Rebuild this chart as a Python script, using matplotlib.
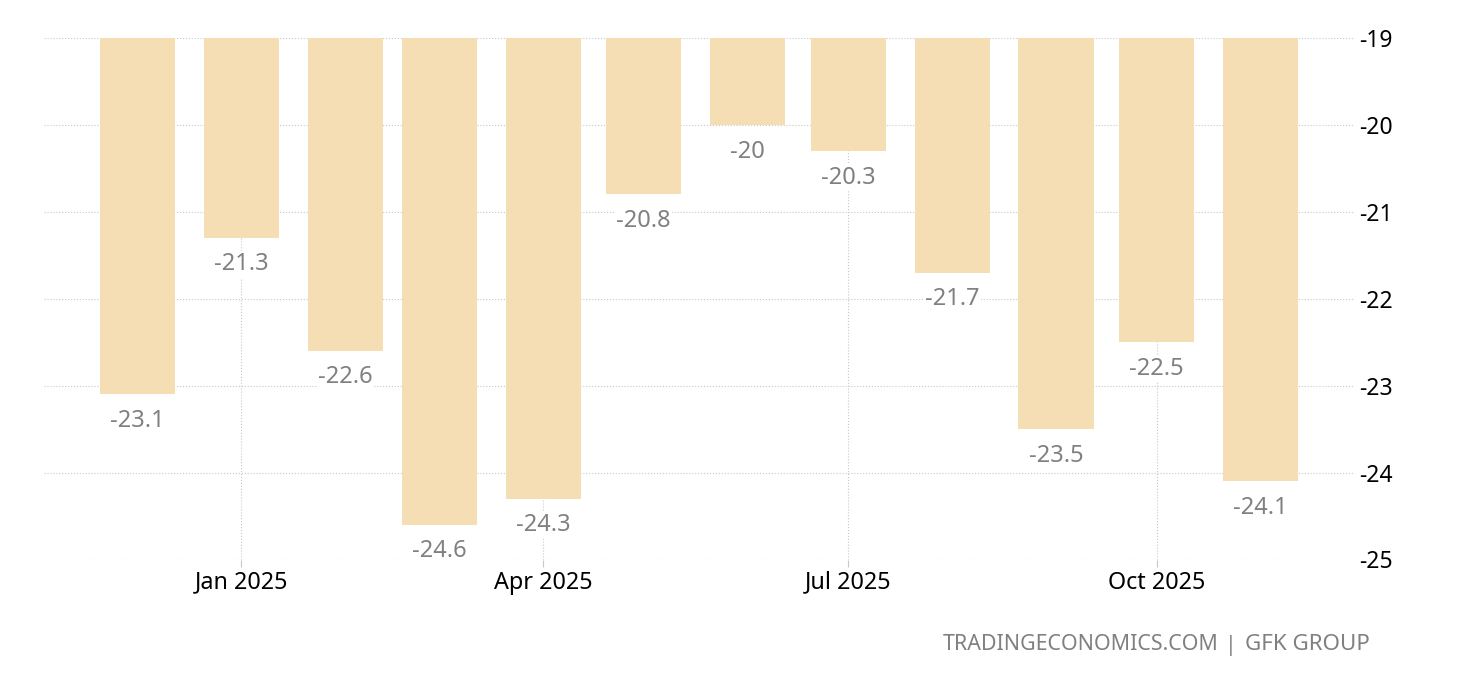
import matplotlib
matplotlib.use("Agg")
import matplotlib.pyplot as plt
import matplotlib.dates as mdates
import pandas as pd

months = ["2024-12-01", "2025-01-01", "2025-02-01", "2025-03-01", "2025-04-01", "2025-05-01",
          "2025-06-01", "2025-07-01", "2025-08-01", "2025-09-01", "2025-10-01", "2025-11-01"]
values = [-23.1, -21.3, -22.6, -24.6, -24.3, -20.8, -20, -20.3, -21.7, -23.5, -22.5, -24.1]
y_ticks = [-19, -20, -21, -22, -23, -24, -25]
x_ticks = ["2025-01-01", "2025-04-01", "2025-07-01", "2025-10-01"]
x_tick_labels = ["Jan 2025", "Apr 2025", "Jul 2025", "Oct 2025"]

plt.rcParams["font.family"] = ["Noto Sans", "DejaVu Sans"]

dates = mdates.date2num(pd.to_datetime(months))

fig = plt.figure(figsize=(14.6, 6.8), dpi=100)
ax = fig.add_axes([44 / 1460, 1 - 559.5 / 680, (1355 - 44) / 1460, (559.5 - 38) / 680])

# bars hang from the top of the axis, about 22 days wide
ax.bar(dates, [v + 19 for v in values], bottom=-19, width=22.4, color="#f5deb3", zorder=2)
ax.set_xlim(dates[0] - 27.9, dates[0] + 363.2)
ax.set_ylim(-25, -19)

for x, v in zip(dates, values):
    ax.annotate(f"{v:g}", (x, v), xytext=(0, -10.5), textcoords="offset points", ha="center", va="top",
                fontsize=17, color="#808080", zorder=3,
                bbox=dict(facecolor="white", edgecolor="none", pad=1))

ax.set_yticks(y_ticks)
ax.set_yticklabels([str(t) for t in y_ticks])
ax.yaxis.tick_right()
ax.set_xticks(mdates.date2num(pd.to_datetime(x_ticks)))
ax.set_xticklabels(x_tick_labels)
ax.tick_params(axis="y", length=0, labelsize=16.5, labelcolor="black", pad=3)
ax.tick_params(axis="x", length=5, width=0.8, color="#c8c8c8", labelsize=16.8, labelcolor="black", pad=3)
ax.grid(True, color="#c8c8c8", linestyle=":", linewidth=0.8, zorder=0)
ax.set_axisbelow(True)
for s in ax.spines.values():
    s.set_visible(False)

# footer in three pieces so the gaps around the bar match
footer_y = 1 - 645 / 680
fig.text(1219 / 1460, footer_y, "TRADINGECONOMICS.COM", ha="right", va="center", fontsize=15.4, color="#808080")
fig.text(1231 / 1460, footer_y, "|", ha="center", va="center", fontsize=15.4, color="#808080")
fig.text(1370 / 1460, footer_y, "GFK GROUP", ha="right", va="center", fontsize=16.1, color="#808080")

fig.savefig("out.png", dpi=100)
